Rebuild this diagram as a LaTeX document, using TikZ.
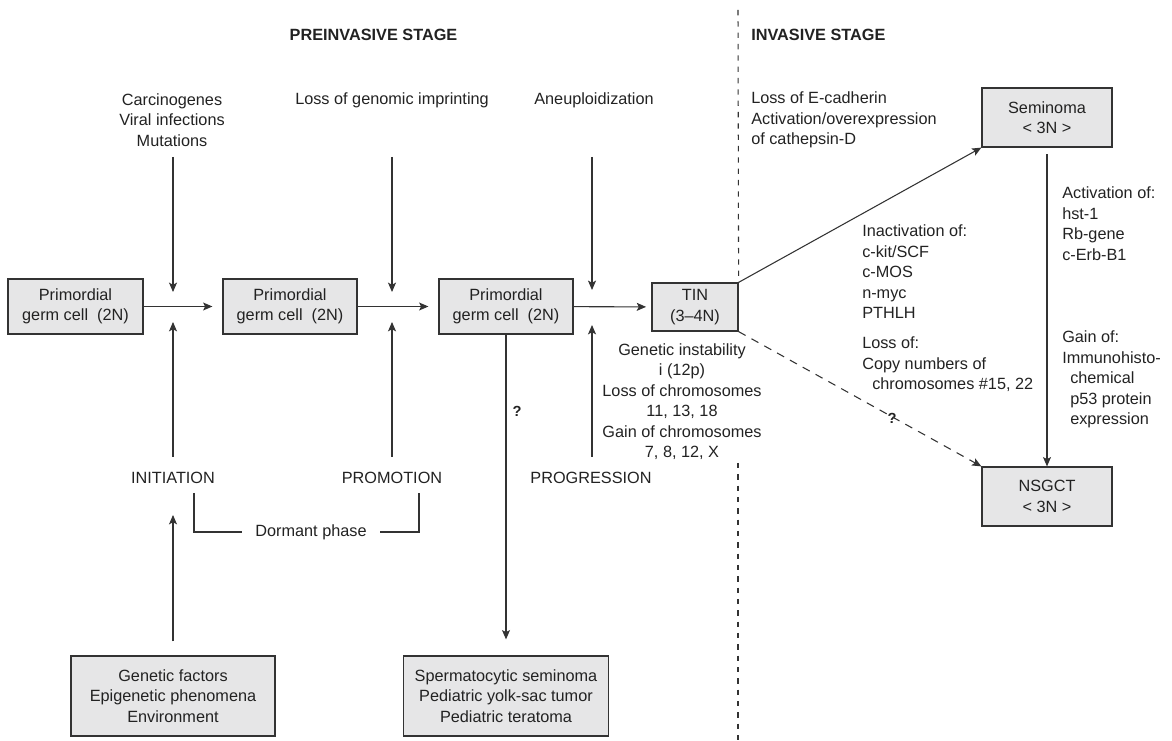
\documentclass[tikz,border=0pt]{standalone}
\usepackage{fontspec}
\setmainfont{Liberation Sans}
\usetikzlibrary{arrows.meta}
\definecolor{lnc}{HTML}{333333}
\definecolor{bxc}{HTML}{E6E6E7}
\definecolor{txc}{HTML}{222222}
\begin{document}
\begin{tikzpicture}[x=0.75pt,y=-0.75pt,
  every node/.style={font=\fontsize{12.2}{15.4}\selectfont, text=txc},
  box/.style={draw=lnc, line width=0.9pt, fill=bxc, align=center, inner sep=0pt},
  lab/.style={align=center, inner sep=0pt},
  ttl/.style={inner sep=0pt, font=\fontsize{12.2}{15.4}\selectfont\bfseries},
  qm/.style={inner sep=0pt, font=\fontsize{11}{13}\selectfont\bfseries},
  arr/.style={draw=lnc, line width=0.8pt, -{Stealth[length=7pt,width=6pt,inset=1.5pt]}},
  plain/.style={draw=lnc, line width=0.8pt},
  sepline/.style={draw=lnc, line width=0.8pt, dash pattern=on 4pt off 4.5pt},
  dasharr/.style={arr, dash pattern=on 6pt off 5pt}
]
\useasboundingbox (0,0) rectangle (1172,741);

% titles
\node[ttl] (t1) at (373.5,35) {PREINVASIVE STAGE};
\node[ttl, anchor=west] (t2) at (751,35) {INVASIVE STAGE};

% boxes
\node[box, minimum width=101.25pt, minimum height=41.25pt] (p1) at (75.5,306.5) {Primordial\\germ cell\ \ (2N)};
\node[box, minimum width=100.5pt, minimum height=41.25pt] (p2) at (290,306.5) {Primordial\\germ cell\ \ (2N)};
\node[box, minimum width=100.5pt, minimum height=41.25pt] (p3) at (506,306.5) {Primordial\\germ cell\ \ (2N)};
\node[box, minimum width=64.5pt, minimum height=36pt] (tin) at (695,307) {TIN\\(3–4N)};
\node[box, minimum width=97.5pt, minimum height=44.25pt] (sem) at (1047,117.5) {Seminoma\\< 3N >};
\node[box, minimum width=97.5pt, minimum height=44.25pt] (nsg) at (1047,496.5) {NSGCT\\< 3N >};
\node[box, minimum width=153pt, minimum height=60pt] (gen) at (173,696) {Genetic factors\\Epigenetic phenomena\\Environment};
\node[box, minimum width=153.75pt, minimum height=60pt] (spe) at (506,696) {Spermatocytic seminoma\\Pediatric yolk-sac tumor\\Pediatric teratoma};

% labels
\node[lab] (carc) at (172,120) {Carcinogenes\\Viral infections\\Mutations};
\node[lab] (lgi) at (392,100) {Loss of genomic imprinting};
\node[lab] (aneu) at (594,100) {Aneuploidization};
\node[lab, anchor=west, align=left] (ecad) at (751,120) {Loss of E-cadherin\\Activation/overexpression\\of cathepsin-D};
\node[lab] (init) at (173,478) {INITIATION};
\node[lab] (prom) at (392,478) {PROMOTION};
\node[lab] (prog) at (591,478) {PROGRESSION};
\node[lab, inner sep=10pt] (dorm) at (311,532) {Dormant phase};
\node[lab] (gi) at (682,401.5) {Genetic instability\\i (12p)\\Loss of chromosomes\\11, 13, 18\\Gain of chromosomes\\7, 8, 12, X};
\node[lab, anchor=west, align=left] (inact) at (862,308.5) {Inactivation of:\\c-kit/SCF\\c-MOS\\n-myc\\PTHLH\\[7pt]Loss of:\\Copy numbers of\\\hspace*{7.5pt}chromosomes \#15, 22};
\node[lab, anchor=west, align=left] (act) at (1062,223.5) {Activation of:\\hst-1\\Rb-gene\\c-Erb-B1};
\node[lab, anchor=west, align=left] (gain) at (1062,379.5) {Gain of:\\Immunohisto-\\\hspace*{6pt}chemical\\\hspace*{6pt}p53 protein\\\hspace*{6pt}expression};
\node[qm] (q1) at (517,411) {?};
\node[qm] (q2) at (892,418) {?};

% coordinates for free ends
\coordinate (a1s) at (173,157); \coordinate (a1e) at (173,292);
\coordinate (b1s) at (173,457); \coordinate (b1e) at (173,322);
\coordinate (c1) at (173,515);
\coordinate (a2s) at (392,157); \coordinate (a2e) at (392,292);
\coordinate (b2s) at (392,457); \coordinate (b2e) at (392,322);
\coordinate (a3s) at (592,157); \coordinate (a3e) at (592,290);
\coordinate (b3s) at (592,457); \coordinate (b3e) at (592,325);
\coordinate (d1) at (194,493); \coordinate (d2) at (194,532);
\coordinate (d3) at (419,532); \coordinate (d4) at (419,493);
\coordinate (vtop) at (738,10);
\coordinate (vb1) at (738,463); \coordinate (vb2) at (738,741);

% vertical arrows
\draw[arr] (a1s) -- (a1e);
\draw[arr] (b1s) -- (b1e);
\draw[arr] (a2s) -- (a2e);
\draw[arr] (b2s) -- (b2e);
\draw[arr] (a3s) -- (a3e);
\draw[arr] (b3s) -- (b3e);
\draw[arr, shorten <=10.5pt] (gen.north) -- (c1);

% horizontal arrows
\draw[arr, shorten >=7.5pt] (p1) -- (p2);
\draw[arr, shorten >=7.5pt] (p2) -- (p3);
\draw[arr, shorten >=4pt] (p3) -- (tin);
\draw[arr, shorten >=12pt] (p3.south) -- (spe.north);

% invasive arrows
\draw[arr] (tin.north east) -- (sem.south west);
\draw[dasharr] (tin.south east) -- (nsg.north west);
\draw[arr, shorten <=5pt] (sem) -- (nsg);

% dormant bracket
\draw[plain] (d1) -- (d2) -- (dorm.west);
\draw[plain] (dorm.east) -- (d3) -- (d4);

% separator
\draw[sepline] (vtop) -- (tin.north east);
\draw[sepline] (vb1) -- (vb2);
\end{tikzpicture}
\end{document}
